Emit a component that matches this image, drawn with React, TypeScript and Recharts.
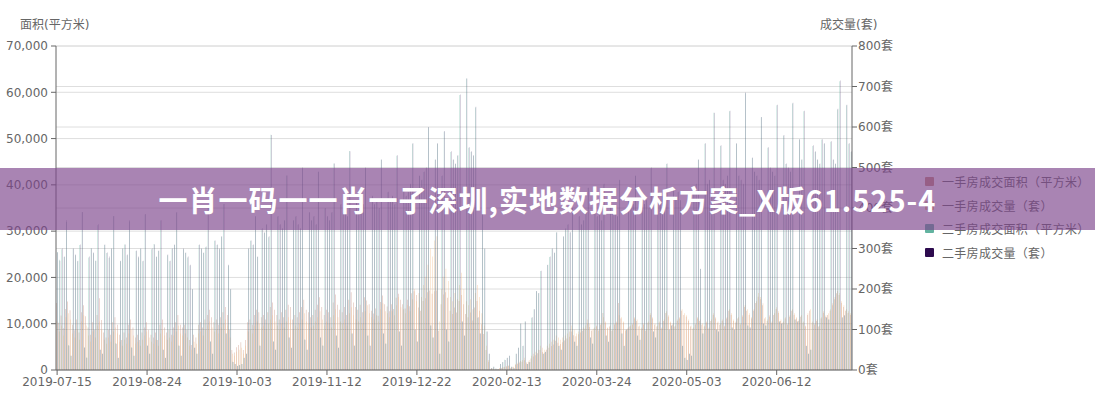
import React from 'react';
import { BarChart, Bar, XAxis, YAxis, CartesianGrid } from 'recharts';

// tick labels, one every 40 trading days (Spring Festival days are missing from the data)
const TICK_LABELS = [
  '2019-07-15', '2019-08-24', '2019-10-03', '2019-11-12', '2019-12-22',
  '2020-02-13', '2020-03-24', '2020-05-03', '2020-06-12',
];

// 一手房成交面积 (平方米) - one row per week
const NEW_AREA = [
  14500, 10200, 11800, 9000, 13200, 14800, 12900,
  9800, 8600, 10900, 8100, 12500, 14000, 11600,
  9200, 7600, 10300, 8700, 11900, 15500, 10800,
  8100, 7000, 8700, 7600, 10300, 11400, 9800,
  7600, 6500, 8100, 7000, 9800, 10900, 9200,
  7000, 7600, 6500, 8100, 9200, 10300, 8700,
  7600, 7000, 8100, 6500, 9800, 10900, 9200,
  8100, 8700, 7600, 9200, 10300, 11900, 9800,
  9200, 9800, 8700, 6500, 5400, 7600, 7000,
  9800, 10300, 9200, 10900, 11900, 13000, 11400,
  10300, 10900, 9800, 11400, 12500, 13600, 11900,
  8700, 4300, 3800, 4900, 5400, 6000, 4300,
  6500, 10300, 10900, 9800, 11900, 13000, 12500,
  11400, 11900, 10900, 12500, 13600, 14600, 13000,
  11900, 10900, 12500, 11400, 13000, 14100, 13600,
  10900, 11900, 11400, 12500, 13600, 15200, 13000,
  12500, 11400, 11900, 13000, 14100, 15700, 13600,
  11900, 13000, 12500, 11400, 14600, 16300, 14100,
  13000, 12500, 13600, 11900, 15200, 16800, 14600,
  13600, 13000, 14100, 12500, 15700, 15000, 14200,
  12800, 12200, 13300, 11700, 14700, 16100, 14200,
  13700, 12700, 14200, 13200, 15600, 16500, 15200,
  14200, 13300, 15200, 13800, 16600, 17000, 16200,
  13500, 12800, 14900, 15500, 16800, 17200, 16500,
  17000, 17200, 8500, 14200, 16300, 16800, 15600,
  12800, 12100, 13500, 12400, 14900, 16200, 14200,
  12100, 11400, 12400, 10700, 13500, 14900, 12800,
  9900, 7800, 4300, 1800, 200, 300, 150,
  150, 350, 450, 600, 700, 850, 450,
  600, 1100, 1300, 1600, 1800, 2100, 1400,
  1800, 2500, 2900, 3200, 3600, 4300, 3900,
  3700, 4400, 4800, 5200, 5500, 6300, 5900,
  5600, 6000, 6400, 6800, 7200, 8300, 7500,
  7300, 7700, 8100, 8500, 8900, 10100, 9300,
  8500, 8900, 9400, 8500, 9800, 12300, 10200,
  9000, 9400, 8500, 9800, 10200, 14500, 11100,
  10200, 8500, 8900, 9400, 9800, 11100, 10600,
  9400, 8900, 9800, 8500, 10200, 11900, 11100,
  9800, 9400, 10200, 8900, 10600, 12300, 11500,
  10200, 9800, 9400, 10600, 11100, 12800, 11900,
  11500, 10600, 9400, 8900, 9800, 11100, 10600,
  9800, 9400, 10200, 8900, 10600, 11900, 11100,
  10200, 9800, 10600, 9400, 11100, 12800, 11900,
  10600, 10200, 11100, 9800, 11500, 13600, 12800,
  11900, 11100, 12800, 14500, 15800, 15300, 14000,
  11100, 10600, 11500, 10200, 11900, 13200, 12300,
  10600, 10200, 11100, 9800, 11500, 12800, 11900,
  11100, 10600, 11500, 10200, 9400, 11900, 12800,
  10200, 9800, 10600, 9400, 11100, 12300, 11500,
  11900, 12800, 14000, 15300, 16600, 16200, 14500,
  13600, 12800, 12300, 11900,
];

// 一手房成交量 (套)
const NEW_UNITS = [
  120, 95, 110, 85, 130, 140, 125,
  90, 80, 100, 75, 120, 135, 110,
  85, 70, 95, 80, 110, 120, 100,
  75, 65, 80, 70, 95, 105, 90,
  70, 60, 75, 65, 90, 100, 85,
  65, 70, 60, 75, 85, 95, 80,
  70, 65, 75, 60, 90, 100, 85,
  75, 80, 70, 85, 95, 110, 90,
  85, 90, 80, 60, 50, 70, 65,
  90, 95, 85, 100, 110, 120, 105,
  95, 100, 90, 105, 115, 125, 110,
  80, 40, 35, 45, 50, 55, 40,
  60, 95, 100, 90, 110, 120, 115,
  105, 110, 100, 115, 125, 135, 120,
  110, 100, 115, 105, 120, 130, 125,
  100, 110, 105, 115, 125, 140, 120,
  115, 105, 110, 120, 130, 145, 125,
  110, 120, 115, 105, 135, 150, 130,
  120, 115, 125, 110, 140, 155, 135,
  125, 120, 130, 115, 145, 160, 140,
  130, 125, 135, 120, 150, 165, 145,
  140, 130, 145, 135, 160, 180, 155,
  150, 140, 160, 145, 175, 200, 170,
  190, 180, 210, 230, 260, 300, 280,
  320, 330, 120, 200, 230, 250, 220,
  180, 170, 190, 175, 210, 240, 200,
  170, 160, 175, 150, 190, 210, 180,
  140, 110, 60, 25, 3, 4, 2,
  2, 5, 6, 8, 10, 12, 6,
  8, 15, 18, 22, 25, 30, 20,
  25, 35, 40, 45, 50, 60, 55,
  50, 60, 65, 70, 75, 85, 80,
  75, 80, 85, 90, 95, 110, 100,
  90, 95, 100, 105, 110, 125, 115,
  100, 105, 110, 100, 115, 130, 120,
  105, 110, 100, 115, 120, 135, 130,
  120, 100, 105, 110, 115, 130, 125,
  110, 105, 115, 100, 120, 140, 130,
  115, 110, 120, 105, 125, 145, 135,
  120, 115, 110, 125, 130, 150, 140,
  135, 125, 110, 105, 115, 130, 125,
  115, 110, 120, 105, 125, 140, 130,
  120, 115, 125, 110, 130, 150, 140,
  125, 120, 130, 115, 135, 160, 150,
  140, 130, 150, 170, 190, 180, 165,
  130, 125, 135, 120, 140, 155, 145,
  125, 120, 130, 115, 135, 150, 140,
  130, 125, 135, 120, 110, 140, 150,
  120, 115, 125, 110, 130, 145, 135,
  140, 150, 165, 180, 195, 190, 170,
  160, 150, 145, 140,
];

// 二手房成交面积 (平方米)
const RESALE_AREA = [
  25500, 23800, 26100, 24400, 32000, 5400, 3100,
  26200, 24800, 23500, 27000, 34100, 4900, 2700,
  24300, 26300, 25200, 23600, 31300, 4400, 3500,
  27000, 25300, 24200, 26200, 33200, 5800, 2600,
  23500, 26200, 27100, 24800, 32100, 4900, 3100,
  25700, 24300, 26200, 23500, 33600, 5300, 3500,
  26100, 27200, 24400, 25700, 32300, 4400, 2600,
  24800, 23500, 26200, 27000, 34000, 5300, 3100,
  26100, 25300, 24300, 22600, 17400, 4800, 3500,
  27000, 26200, 25300, 26500, 35000, 6200, 3500,
  27900, 27000, 26100, 28800, 35800, 7900, 22600,
  17400, 1800, 1300, 900, 1100, 1300, 2600,
  3500, 26200, 27900, 27000, 33100, 24400, 5300,
  30500, 29600, 31400, 28700, 50800, 6200, 4400,
  33100, 31400, 30500, 32300, 42000, 7000, 4800,
  32300, 33100, 31400, 30500, 43600, 6600, 4400,
  34000, 32300, 33100, 31400, 42800, 7000, 5300,
  34900, 33100, 32300, 34000, 44600, 7400, 4800,
  35700, 34000, 34900, 33100, 47300, 7900, 5300,
  36600, 34900, 34000, 35700, 43600, 7400, 5300,
  37500, 35700, 36600, 34900, 45400, 7900, 5700,
  38400, 36600, 37500, 35700, 46300, 8300, 5300,
  39200, 37500, 38400, 40100, 48900, 8700, 6200,
  41900, 41000, 42800, 43600, 52400, 9600, 7000,
  45400, 48900, 3500, 41900, 51500, 8700, 6200,
  47100, 45400, 44500, 46300, 59400, 10500, 7400,
  63000, 48000, 47100, 46300, 56700, 11300, 7900,
  36600, 26200, 8300, 3500, 400, 700, 300,
  200, 1300, 1700, 2200, 2600, 3100, 700,
  400, 3500, 4800, 10000, 5200, 10500, 1300,
  1700, 11300, 13100, 17000, 16600, 21400, 3500,
  3900, 22700, 24400, 26200, 25300, 29700, 5200,
  4400, 28800, 30500, 31400, 29700, 34900, 6100,
  5200, 33100, 31400, 32300, 34000, 39300, 7000,
  5700, 34900, 33100, 34000, 32300, 40100, 7400,
  6100, 35800, 34000, 34900, 33100, 41000, 7900,
  5200, 8700, 36600, 34900, 35800, 41900, 7400,
  6500, 37500, 35800, 36600, 34900, 43600, 8300,
  7000, 38400, 36600, 37500, 35800, 44500, 8700,
  9600, 39300, 37500, 38400, 36600, 5200, 2600,
  2200, 3500, 3100, 39300, 40100, 45400, 21800,
  7900, 48900, 40100, 41000, 39300, 55600, 8700,
  8300, 48400, 41000, 40100, 41900, 55900, 9200,
  8700, 48900, 41900, 41000, 40100, 59800, 9600,
  9200, 45800, 42800, 41900, 41000, 54600, 10000,
  9600, 48000, 43600, 42800, 41900, 57200, 10500,
  10000, 50600, 44500, 43600, 42800, 57600, 10900,
  10500, 49800, 45400, 55900, 5200, 3500, 4400,
  48400, 47100, 45400, 44500, 49800, 48900, 11300,
  10900, 49300, 45400, 44500, 56300, 62400, 11300,
  11800, 57200, 48900, 47100,
];

// 二手房成交量 (套)
const RESALE_UNITS = [
  290, 270, 300, 280, 370, 60, 35,
  300, 285, 270, 310, 390, 55, 30,
  280, 300, 290, 270, 360, 50, 40,
  310, 290, 280, 300, 380, 65, 30,
  270, 300, 310, 285, 370, 55, 35,
  295, 280, 300, 270, 385, 60, 40,
  300, 310, 280, 295, 370, 50, 30,
  285, 270, 300, 310, 390, 60, 35,
  300, 290, 280, 260, 200, 55, 40,
  310, 300, 290, 305, 400, 70, 40,
  320, 310, 300, 330, 410, 90, 260,
  200, 20, 15, 10, 12, 15, 30,
  40, 300, 320, 310, 380, 280, 60,
  350, 340, 360, 330, 580, 70, 50,
  380, 360, 350, 370, 480, 80, 55,
  370, 380, 360, 350, 500, 75, 50,
  390, 370, 380, 360, 490, 80, 60,
  400, 380, 370, 390, 510, 85, 55,
  410, 390, 400, 380, 540, 90, 60,
  420, 400, 390, 410, 500, 85, 60,
  430, 410, 420, 400, 520, 90, 65,
  440, 420, 430, 410, 530, 95, 60,
  450, 430, 440, 460, 560, 100, 70,
  480, 470, 490, 500, 600, 110, 80,
  520, 560, 40, 480, 590, 100, 70,
  540, 520, 510, 530, 680, 120, 85,
  720, 550, 540, 530, 650, 130, 90,
  420, 300, 95, 40, 5, 8, 3,
  2, 15, 20, 25, 30, 35, 8,
  5, 40, 55, 115, 60, 120, 15,
  20, 130, 150, 195, 190, 245, 40,
  45, 260, 280, 300, 290, 340, 60,
  50, 330, 350, 360, 340, 400, 70,
  60, 380, 360, 370, 390, 450, 80,
  65, 400, 380, 390, 370, 460, 85,
  70, 410, 390, 400, 380, 470, 90,
  60, 100, 420, 400, 410, 480, 85,
  75, 430, 410, 420, 400, 500, 95,
  80, 440, 420, 430, 410, 510, 100,
  110, 450, 430, 440, 420, 60, 30,
  25, 40, 35, 450, 460, 520, 250,
  90, 560, 460, 470, 450, 635, 100,
  95, 555, 470, 460, 480, 640, 105,
  100, 560, 480, 470, 460, 685, 110,
  105, 525, 490, 480, 470, 625, 115,
  110, 550, 500, 490, 480, 655, 120,
  115, 580, 510, 500, 490, 660, 125,
  120, 570, 520, 640, 60, 40, 50,
  555, 540, 520, 510, 570, 560, 130,
  125, 565, 520, 510, 645, 715, 130,
  135, 655, 560, 540,
];

const SERIES = [
  { key: 'newArea', name: '一手房成交面积（平方米）', color: '#c9907c', axis: 'left', opacity: 0.9 },
  { key: 'newUnits', name: '一手房成交量（套）', color: '#f3c08c', axis: 'right', opacity: 0.9 },
  { key: 'resaleArea', name: '二手房成交面积（平方米）', color: '#62b3a0', axis: 'left', opacity: 0.7 },
  { key: 'resaleUnits', name: '二手房成交量（套）', color: '#2d0b4e', axis: 'right', opacity: 0.45 },
];

const data = NEW_AREA.map((v, i) => ({
  i,
  newArea: v,
  newUnits: NEW_UNITS[i],
  resaleArea: RESALE_AREA[i],
  resaleUnits: RESALE_UNITS[i],
}));

const FONT = '"DejaVu Sans", "Noto Sans CJK SC", sans-serif';
const tickStyle = { fontSize: 12, fill: '#666' };

export default function App() {
  return (
    <div style={{ position: 'absolute', left: 0, top: 0, width: 1095, height: 400, background: '#fff', fontFamily: FONT }}>
      <BarChart
        width={1095}
        height={400}
        data={data}
        margin={{ top: 46, right: 183, left: 0, bottom: 0 }}
        barCategoryGap="15%"
        barGap={0}
      >
        <CartesianGrid yAxisId="left" vertical={false} stroke="#dedede" />
        <CartesianGrid yAxisId="right" vertical={false} stroke="#dedede" />
        <XAxis
          dataKey="i"
          type="category"
          interval={39}
          height={30}
          tick={tickStyle}
          tickSize={5}
          tickLine={{ stroke: '#666' }}
          axisLine={{ stroke: '#666' }}
          tickFormatter={(i: number) => TICK_LABELS[i / 40] || ''}
        />
        <YAxis
          yAxisId="left"
          width={56}
          domain={[0, 70000]}
          ticks={[0, 10000, 20000, 30000, 40000, 50000, 60000, 70000]}
          tick={tickStyle}
          tickSize={5}
          tickMargin={3}
          tickLine={{ stroke: '#666' }}
          axisLine={{ stroke: '#666' }}
          tickFormatter={(v: number) => v.toLocaleString('en-US')}
        />
        <YAxis
          yAxisId="right"
          orientation="right"
          width={60}
          domain={[0, 800]}
          ticks={[0, 100, 200, 300, 400, 500, 600, 700, 800]}
          tick={tickStyle}
          tickSize={5}
          tickMargin={1}
          tickLine={{ stroke: '#666' }}
          axisLine={{ stroke: '#666' }}
          tickFormatter={(v: number) => `${v}套`}
        />
        {SERIES.map(s => (
          <Bar
            key={s.key}
            dataKey={s.key}
            name={s.name}
            yAxisId={s.axis}
            fill={s.color}
            fillOpacity={s.opacity}
            isAnimationActive={false}
          />
        ))}
      </BarChart>

      {/* axis titles */}
      <div style={{ position: 'absolute', left: 20, top: 15, fontSize: 12, color: '#666' }}>面积(平方米)</div>
      <div style={{ position: 'absolute', left: 820, top: 15, fontSize: 12, color: '#666' }}>成交量(套)</div>

      {/* legend */}
      <div style={{ position: 'absolute', left: 925, top: 170 }}>
        {SERIES.map(s => (
          <div key={s.key} style={{ display: 'flex', alignItems: 'center', height: 23.5, fontSize: 12, color: '#666' }}>
            <span style={{ width: 9, height: 9, background: s.color, borderRadius: 1, marginRight: 8 }} />
            <span style={{ letterSpacing: 0.3 }}>{s.name}</span>
          </div>
        ))}
      </div>

      {/* watermark banner */}
      <div
        style={{
          position: 'absolute', left: 0, top: 168, width: 1095, height: 62,
          background: 'rgba(125, 68, 140, 0.66)', color: '#fff',
          display: 'flex', alignItems: 'center', justifyContent: 'center',
          fontFamily: '"Noto Sans CJK SC", sans-serif', fontWeight: 700, fontSize: 29,
          letterSpacing: 1,
        }}
      >
        一肖一码一一肖一子深圳,实地数据分析方案_X版61.525-4
      </div>
    </div>
  );
}
